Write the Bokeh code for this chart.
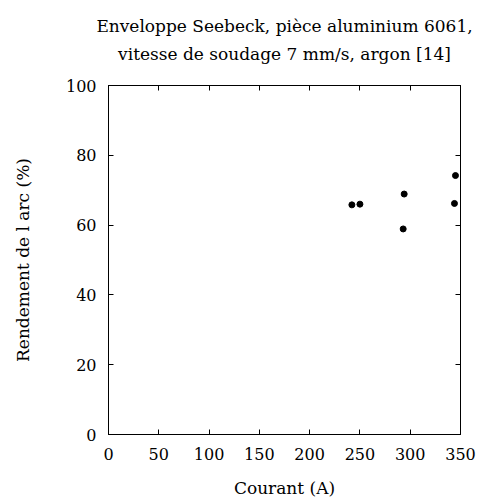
from bokeh.plotting import figure
from bokeh.models import Range1d, LinearAxis, FixedTicker, ColumnDataSource, Title
from bokeh.embed import file_html
from bokeh.resources import INLINE

courant = [242, 250, 294, 293, 345, 344]
rendement = [65.8, 66.0, 68.9, 58.9, 74.2, 66.2]
x_ticks = [0, 50, 100, 150, 200, 250, 300, 350]
y_ticks = [0, 20, 40, 60, 80, 100]
title_line1 = "Enveloppe Seebeck, pièce aluminium 6061,"
title_line2 = "vitesse de soudage 7 mm/s, argon [14]"
x_label = "Courant (A)"
y_label = "Rendement de l arc (%)"

FONT = "DejaVu Serif"
FS = "17px"
FS_TICK = "16px"

p = figure(width=482, height=500, output_backend="svg", toolbar_location=None,
           x_range=Range1d(0, 350), y_range=Range1d(0, 100),
           min_border_left=108, min_border_right=22, min_border_top=85, min_border_bottom=64,
           x_axis_location=None, y_axis_location=None)
p.grid.visible = False
p.outline_line_color = "black"
p.outline_line_width = 1
p.outline_line_alpha = 1
p.background_fill_color = "white"
p.border_fill_color = "white"


def make_axis(ticks, label=None, show_labels=True):
    ax = LinearAxis(ticker=FixedTicker(ticks=ticks))
    ax.major_tick_in = 5
    ax.major_tick_out = 0
    ax.minor_tick_in = 0
    ax.minor_tick_out = 0
    ax.axis_line_color = "black"
    ax.major_tick_line_color = "black"
    ax.major_label_text_font = FONT
    ax.major_label_text_font_size = FS_TICK if show_labels else "0px"
    ax.major_label_text_color = "black"
    if not show_labels:
        ax.major_label_text_alpha = 0
        ax.major_label_standoff = 0
    if label:
        ax.axis_label = label
        ax.axis_label_text_font = FONT
        ax.axis_label_text_font_size = FS
        ax.axis_label_text_font_style = "normal"
        ax.axis_label_text_color = "black"
    return ax

xb = make_axis(x_ticks, x_label)
xb.major_label_standoff = 13
xb.axis_label_standoff = 15
p.add_layout(xb, "below")
yl = make_axis(y_ticks, y_label)
yl.major_label_standoff = 12
yl.axis_label_standoff = 30
p.add_layout(yl, "left")
p.add_layout(make_axis(x_ticks, show_labels=False), "above")
p.add_layout(make_axis(y_ticks, show_labels=False), "right")

spacer = Title(text=" ", text_font=FONT, text_font_size="17px", standoff=0)
p.add_layout(spacer, "above")

t2 = Title(text=title_line2, align="center", text_font=FONT, text_font_size=FS,
           text_font_style="normal", text_color="black", standoff=0)
p.add_layout(t2, "above")

spacer2 = Title(text=" ", text_font=FONT, text_font_size="3px", standoff=0)
p.add_layout(spacer2, "above")

p.title.text = title_line1
p.title.align = "center"
p.title.text_font = FONT
p.title.text_font_size = FS
p.title.text_font_style = "normal"
p.title.text_color = "black"
p.title.standoff = 0

src = ColumnDataSource(data=dict(x=courant, y=rendement))
p.scatter("x", "y", source=src, size=6, color="black")

open("out.html", "w").write(file_html(p, INLINE))
